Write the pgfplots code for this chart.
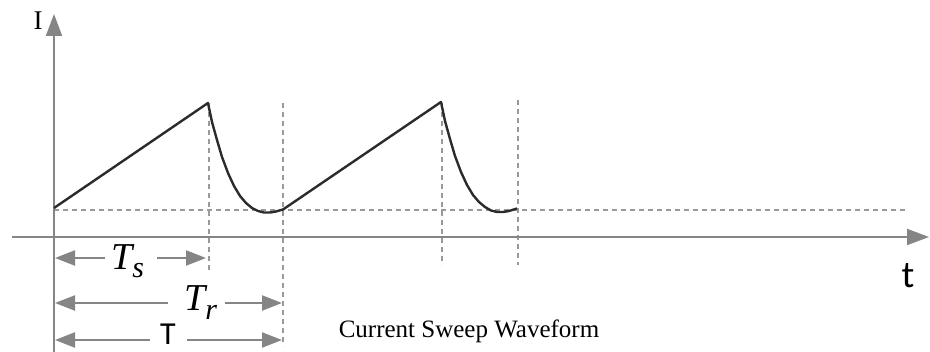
\documentclass[border=0pt]{standalone}
\usepackage{fontspec}
\setmainfont{Liberation Serif}
\newfontfamily\calib{Carlito}
\usepackage{pgfplots}
\pgfplotsset{compat=1.18}
\usetikzlibrary{arrows.meta}
\definecolor{axgray}{HTML}{858585}
\definecolor{dashgray}{HTML}{9A9A9A}
\definecolor{wave}{HTML}{2B2B2B}
\begin{document}
\begin{tikzpicture}
\begin{axis}[name=ax, scale only axis, width=930pt, height=352pt,
  xmin=0, xmax=930, ymin=0, ymax=352, y dir=reverse, hide axis, clip=false]
% dashed guide lines
\addplot[dashgray, line width=1.2pt, dash pattern=on 5pt off 4pt] coordinates {(54,210) (905,210)};
\addplot[dashgray, line width=1.2pt, dash pattern=on 5pt off 4pt] coordinates {(209,103) (209,272)};
\addplot[dashgray, line width=1.2pt, dash pattern=on 5pt off 4pt] coordinates {(283,103) (283,346)};
\addplot[dashgray, line width=1.2pt, dash pattern=on 5pt off 4pt] coordinates {(442,103) (442,265)};
\addplot[dashgray, line width=1.2pt, dash pattern=on 5pt off 4pt] coordinates {(518,100) (518,265)};
% axes
\addplot[axgray, line width=2pt, -{Triangle[length=22pt,width=16pt]}] coordinates {(12,237) (929,237)};
\addplot[axgray, line width=2pt, -{Triangle[length=22pt,width=16pt]}] coordinates {(54,352) (54,14)};
% waveform
\addplot[wave, line width=2.4pt, line join=round] coordinates {
(54,208) (208,103)
(212,122) (217,140) (222,157) (228,173) (234,186) (240,196) (246,203)
(252,208) (258,211) (264,212.5) (270,212.5) (276,211.5) (283,209.5)
(441,102)
(445,121) (450,139) (455,156) (461,172) (467,185) (473,195) (479,202)
(485,207) (491,210.5) (497,212) (503,212) (509,211) (517,208.5)
};
% interval arrows (each split round its label)
\addplot[axgray, line width=2.2pt, {Triangle[length=20pt,width=15pt]}-] coordinates {(55,258) (105,258)};
\addplot[axgray, line width=2.2pt, -{Triangle[length=20pt,width=15pt]}] coordinates {(157,258) (206,258)};
\addplot[axgray, line width=2.2pt, {Triangle[length=20pt,width=15pt]}-] coordinates {(55,303) (168,303)};
\addplot[axgray, line width=2.2pt, -{Triangle[length=20pt,width=15pt]}] coordinates {(225,303) (282,303)};
\addplot[axgray, line width=2.2pt, {Triangle[length=20pt,width=15pt]}-] coordinates {(55,340) (150,340)};
\addplot[axgray, line width=2.2pt, -{Triangle[length=20pt,width=15pt]}] coordinates {(187,340) (282,340)};
\node[inner sep=0pt, anchor=base west] at (axis cs:111,270) {\fontsize{38}{42}\selectfont\itshape T\raisebox{-8pt}{\fontsize{30}{34}\selectfont s}};
\node[inner sep=0pt, anchor=base west] at (axis cs:184,311) {\fontsize{38}{42}\selectfont\itshape T\raisebox{-9pt}{\fontsize{30}{34}\selectfont r}};
\node[inner sep=0pt, anchor=base] at (axis cs:168,345) {\calib\fontsize{32}{38}\selectfont T};
% labels
\node[inner sep=0pt, anchor=base] at (axis cs:38,30) {\fontsize{27}{30}\selectfont I};
\node[inner sep=0pt, anchor=base] at (axis cs:908,288) {\calib\fontsize{38}{44}\selectfont t};
\node[anchor=base] at (axis cs:469,338) {\fontsize{25}{30}\selectfont Current Sweep Waveform};
\end{axis}
\pgfresetboundingbox
\useasboundingbox (ax.south west) rectangle (ax.north east);
\end{tikzpicture}
\end{document}
